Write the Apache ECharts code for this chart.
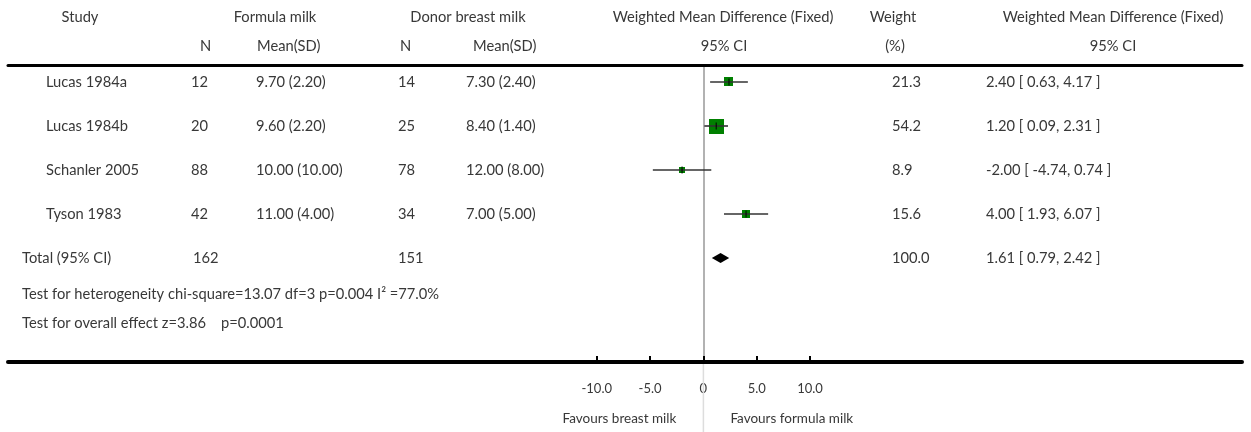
<!DOCTYPE html>
<html>
<head>
<meta charset="utf-8">
<script src="https://cdn.jsdelivr.net/npm/echarts@6/dist/echarts.min.js"></script>
<style>
html,body{margin:0;padding:0;background:#fff;}
#main{width:1251px;height:432px;}
</style>
</head>
<body>
<div id="main"></div>
<script>
// ---------------- data ----------------
const studies = ['Lucas 1984a', 'Lucas 1984b', 'Schanler 2005', 'Tyson 1983'];
const formulaN = [12, 20, 88, 42];
const formulaMeanSD = ['9.70 (2.20)', '9.60 (2.20)', '10.00 (10.00)', '11.00 (4.00)'];
const donorN = [14, 25, 78, 34];
const donorMeanSD = ['7.30 (2.40)', '8.40 (1.40)', '12.00 (8.00)', '7.00 (5.00)'];
const wmd = [2.40, 1.20, -2.00, 4.00];
const ciLow = [0.63, 0.09, -4.74, 1.93];
const ciHigh = [4.17, 2.31, 0.74, 6.07];
const weights = [21.3, 54.2, 8.9, 15.6];
const totalLabel = 'Total (95% CI)';
const totalN = [162, 151];
const totalWmd = 1.61;
const totalLow = 0.79;
const totalHigh = 2.42;
const totalWeight = 100.0;
const heterogeneityText = 'Test for heterogeneity chi-square=13.07 df=3 p=0.004 I\u00B2 =77.0%';
const overallText = 'Test for overall effect z=3.86    p=0.0001';
const tickValues = [-10, -5, 0, 5, 10];
const tickLabels = ['-10.0', '-5.0', '0', '5.0', '10.0'];
const favoursLeft = 'Favours breast milk';
const favoursRight = 'Favours formula milk';

// ---------------- chart ----------------
const chart = echarts.init(document.getElementById('main'), null, {renderer: 'canvas'});
const FONT = 'Lato, "Open Sans", sans-serif';
const TXT = '#383838';
const FS = 14.7;

const studyData = studies.map((s, i) => [i + 1, wmd[i], ciLow[i], ciHigh[i], weights[i]]);
const totalData = [[studies.length + 1, totalWmd, totalLow, totalHigh, totalWeight]];

function renderStudy(params, api) {
  const row = api.value(0), est = api.value(1), lo = api.value(2), hi = api.value(3), w = api.value(4);
  const pL = api.coord([lo, row]), pR = api.coord([hi, row]), pE = api.coord([est, row]);
  const s = 2 * Math.sqrt(w);
  return {
    type: 'group',
    children: [
      {type: 'rect', shape: {x: Math.round(pE[0] - s / 2), y: Math.round(pE[1] - s / 2), width: Math.round(s), height: Math.round(s)}, style: {fill: '#008000'}},
      {type: 'line', shape: {x1: pL[0], y1: pL[1], x2: pR[0], y2: pR[1]}, style: {stroke: '#333', lineWidth: 1.6}},
      {type: 'line', shape: {x1: pE[0], y1: pE[1] - 3.5, x2: pE[0], y2: pE[1] + 3.5}, style: {stroke: '#000', lineWidth: 1}}
    ]
  };
}

function renderDiamond(params, api) {
  const row = api.value(0), est = api.value(1), lo = api.value(2), hi = api.value(3);
  const pL = api.coord([lo, row]), pR = api.coord([hi, row]), pE = api.coord([est, row]);
  const h = 5;
  return {
    type: 'polygon',
    shape: {points: [[pL[0], pL[1]], [pE[0], pE[1] - h], [pR[0], pR[1]], [pE[0], pE[1] + h]]},
    style: {fill: '#000'}
  };
}

const X_MIN = -65.2, X_MAX = 50.5;
const Y_MIN = 0.625, Y_MAX = 7.3636;

chart.setOption({
  animation: false,
  textStyle: {fontFamily: FONT},
  grid: {left: 8, right: 9, top: 65.5, bottom: 70, containLabel: false},
  xAxis: [
    {
      type: 'value', position: 'bottom', min: X_MIN, max: X_MAX,
      axisLine: {show: true, onZero: false, lineStyle: {color: '#000', width: 4}},
      axisTick: {show: true, inside: true, length: 6, customValues: tickValues, lineStyle: {color: '#000', width: 2}},
      axisLabel: {show: true, customValues: tickValues, margin: 20, fontSize: 13, color: TXT, fontFamily: FONT,
        formatter: v => { const i = tickValues.indexOf(v); return i >= 0 ? tickLabels[i] : ''; }},
      splitLine: {show: false}
    },
    {
      type: 'value', position: 'top', min: X_MIN, max: X_MAX,
      axisLine: {show: true, onZero: false, lineStyle: {color: '#000', width: 3}},
      axisTick: {show: false}, axisLabel: {show: false}, splitLine: {show: false}
    }
  ],
  yAxis: {
    type: 'value', inverse: true, min: Y_MIN, max: Y_MAX,
    axisLine: {show: true, onZero: true, lineStyle: {color: '#999', width: 1.5}},
    axisTick: {show: false}, axisLabel: {show: false}, splitLine: {show: false}
  },
  series: [
    {type: 'custom', xAxisIndex: 0, renderItem: renderStudy, data: studyData, encode: {x: [1, 2, 3], y: 0}, z: 5},
    {type: 'custom', xAxisIndex: 0, renderItem: renderDiamond, data: totalData, encode: {x: [1, 2, 3], y: 0}, z: 5}
  ]
});

// ---------------- table text ----------------
function px(x, row) { return chart.convertToPixel({xAxisIndex: 0, yAxisIndex: 0}, [x, row]); }
const zeroX = px(0, 1)[0];
const rowY = r => px(0, r)[1];

function txt(text, x, y, align, size) {
  return {type: 'text', x: x, y: y, silent: true, z: 10,
    style: {text: String(text), fill: TXT, font: (size || FS) + 'px ' + FONT,
      textAlign: align || 'left', textVerticalAlign: 'middle'}};
}
const fmt2 = v => v.toFixed(2);
const ciText = (e, l, h) => fmt2(e) + ' [ ' + fmt2(l) + ', ' + fmt2(h) + ' ]';

const g = [];
// headers
const H1 = 17, H2 = 46;
g.push(txt('Study', 80, H1, 'center'));
g.push(txt('Formula milk', 275, H1, 'center'));
g.push(txt('Donor breast milk', 468, H1, 'center'));
g.push(txt('Weighted Mean Difference (Fixed)', 723, H1, 'center'));
g.push(txt('Weight', 893, H1, 'center'));
g.push(txt('Weighted Mean Difference (Fixed)', 1113, H1, 'center'));
g.push(txt('N', 200, H2, 'left'));
g.push(txt('Mean(SD)', 257, H2, 'left'));
g.push(txt('N', 400, H2, 'left'));
g.push(txt('Mean(SD)', 473, H2, 'left'));
g.push(txt('95% CI', 724, H2, 'center'));
g.push(txt('(%)', 895, H2, 'center'));
g.push(txt('95% CI', 1113, H2, 'center'));

studies.forEach((s, i) => {
  const y = rowY(i + 1);
  g.push(txt(s, 46, y, 'left'));
  g.push(txt(formulaN[i], 191, y, 'left'));
  g.push(txt(formulaMeanSD[i], 256, y, 'left'));
  g.push(txt(donorN[i], 398, y, 'left'));
  g.push(txt(donorMeanSD[i], 466, y, 'left'));
  g.push(txt(weights[i].toFixed(1), 892, y, 'left'));
  g.push(txt(ciText(wmd[i], ciLow[i], ciHigh[i]), 986, y, 'left'));
});
const ty = rowY(studies.length + 1);
g.push(txt(totalLabel, 22, ty, 'left'));
g.push(txt(totalN[0], 193, ty, 'left'));
g.push(txt(totalN[1], 398, ty, 'left'));
g.push(txt(totalWeight.toFixed(1), 892, ty, 'left'));
g.push(txt(ciText(totalWmd, totalLow, totalHigh), 986, ty, 'left'));
g.push(txt(heterogeneityText, 22, 294, 'left'));
g.push(txt(overallText, 22, 323, 'left'));

// zero line continuation below the axis
const axisY = px(0, Y_MAX)[1];
g.push({type: 'line', silent: true, z: 1, shape: {x1: zeroX, y1: axisY + 2, x2: zeroX, y2: 432}, style: {stroke: '#ddd', lineWidth: 1.5}});
g.push(txt(favoursLeft, zeroX - 27, 419, 'right', 13.5));
g.push(txt(favoursRight, zeroX + 27, 419, 'left', 13.5));

chart.setOption({graphic: g});
</script>
</body>
</html>
